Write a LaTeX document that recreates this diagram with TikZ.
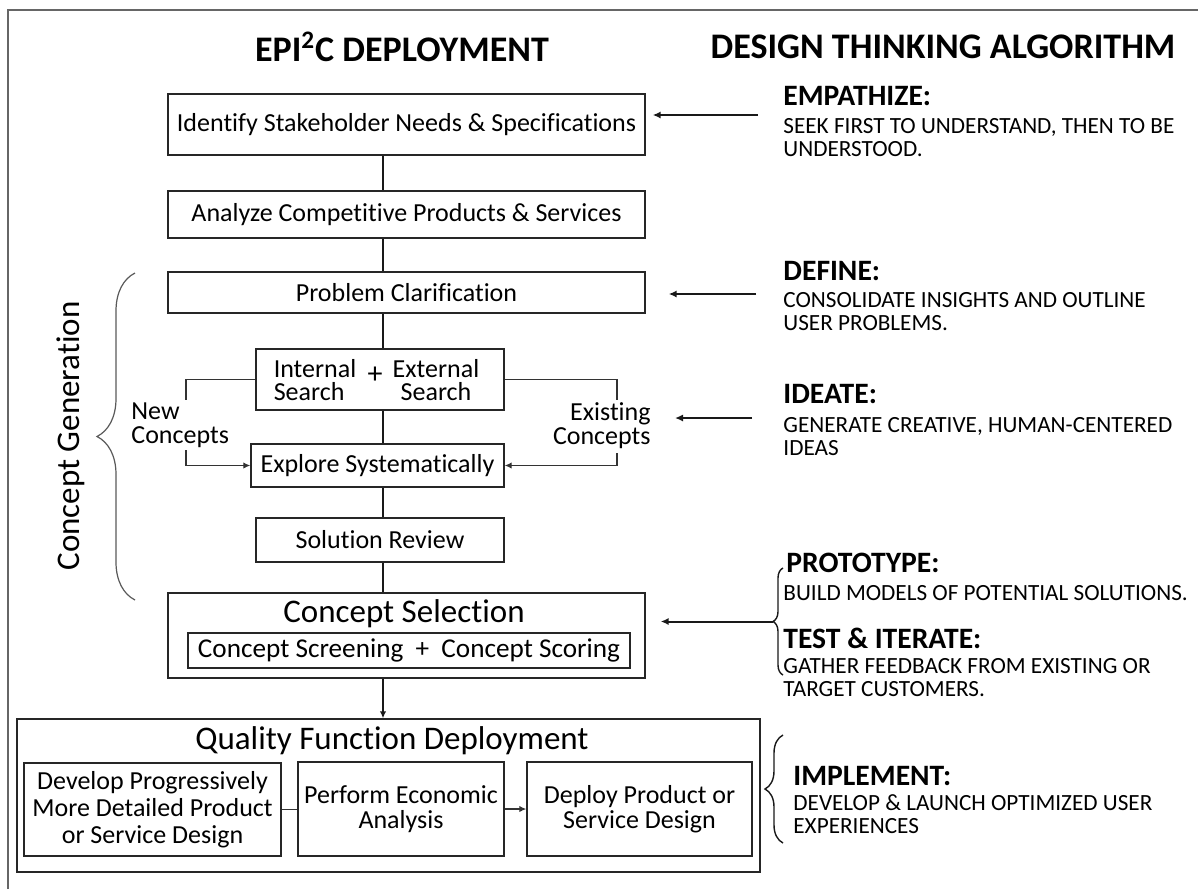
\documentclass[tikz,border=0pt]{standalone}
\usepackage{fontspec}
\setmainfont{Carlito}[Ligatures=NoCommon]
\usetikzlibrary{arrows.meta,decorations.pathreplacing,calc}

\newcommand\fBox{\fontsize{13}{13.5}\selectfont}
\newcommand\fBig{\fontsize{16.5}{18}\selectfont}
\newcommand\fTitle{\bfseries\fontsize{18}{20}\selectfont}
\newcommand\fHead{\bfseries\fontsize{14.8}{16}\selectfont}
\newcommand\fBody{\fontsize{11.6}{12}\selectfont}

\begin{document}
\begin{tikzpicture}[x=0.5pt,y=-0.5pt,
  box/.style={draw=black!85,line width=0.7pt,inner sep=0pt,align=center,font=\fBox},
  txt/.style={inner sep=0pt,font=\fBox},
  conn/.style={draw=black!90,line width=1pt},
  side/.style={draw=black!80,line width=0.6pt},
  tip/.style={-{Latex[length=3.5pt,width=3.2pt]}},
  bigtip/.style={-{Latex[length=4pt,width=3.6pt]}},
  head/.style={anchor=base west,inner sep=0pt,font=\fHead},
  body/.style={anchor=base west,inner sep=0pt,font=\fBody},
  bracelarge/.style={draw=black!65,line width=0.6pt,decorate,decoration={brace,amplitude=19pt}},
  bracesmall/.style={draw=black!90,line width=0.7pt,decorate,decoration={brace,amplitude=#1}},
  frame/.style={draw=black!60,line width=0.75pt}]

\useasboundingbox (0,0) rectangle (1198,889);

% outer frame (left and top edges)
\coordinate (fb) at (8,889);
\coordinate (ft) at (8,10);
\coordinate (fr) at (1198,10);
\draw[frame] (fb) -- (ft) -- (fr);

% column titles
\node[inner sep=0pt,font=\fTitle] (title1) at (402,47) {EPI\textsuperscript{2}C DEPLOYMENT};
\node[inner sep=0pt,font=\fTitle] (title2) at (943,47) {DESIGN THINKING ALGORITHM};

% main column
\coordinate (cx) at (383,0);
\node[box,minimum width=238.5pt,minimum height=30.5pt] (b1) at (406.5,124.5) {Identify Stakeholder Needs \& Specifications};
\node[box,minimum width=238.5pt,minimum height=23.5pt] (b2) at (406.5,214.5) {Analyze Competitive Products \& Services};
\node[box,minimum width=238.5pt,minimum height=20.5pt] (b3) at (406.5,292.5) {Problem Clarification};
\node[box,minimum width=124pt,minimum height=30.5pt] (b4) at (380,379.5) {};
\node[txt,align=left,font=\fontsize{13}{11.5}\selectfont] (intl) at (315,380) {Internal\\Search};
\node[txt,font=\fontsize{15}{15}\selectfont] (plus1) at (375,375) {+};
\node[txt,align=center,font=\fontsize{13}{11.5}\selectfont] (extl) at (436,380) {External\\Search};
\node[box,minimum width=126.5pt,minimum height=21.5pt] (b5) at (377.5,465.5) {Explore Systematically};
\node[box,minimum width=124pt,minimum height=22pt] (b6) at (380,540) {Solution Review};
\node[box,minimum width=238.5pt,minimum height=42.5pt] (b7) at (406.5,635.5) {};
\node[txt,font=\fBig] (csel) at (404,614) {Concept Selection};
\node[box,minimum width=221pt,minimum height=17.5pt,font=\fontsize{13.6}{14}\selectfont] (b7in) at (409,650.5) {Concept Screening\ \ +\ \ Concept Scoring};
\node[box,minimum width=371.5pt,minimum height=76.5pt] (b8) at (388.5,795.5) {};
\node[txt,font=\fBig] (qfd) at (392,741) {Quality Function Deployment};
\node[box,minimum width=128.5pt,minimum height=46.5pt,font=\fontsize{13}{13.5}\selectfont] (bA) at (152.5,809.5) {Develop Progressively\\More Detailed Product\\or Service Design};
\node[box,minimum width=103pt,minimum height=47pt,font=\fontsize{13}{12.5}\selectfont] (bB) at (401,809) {Perform Economic\\Analysis};
\node[box,minimum width=112.5pt,minimum height=47pt,font=\fontsize{13}{12.5}\selectfont] (bC) at (639.5,809) {Deploy Product or\\Service Design};

% vertical flow
\draw[conn] (b1.south -| cx) -- (b2.north -| cx);
\draw[conn] (b2.south -| cx) -- (b3.north -| cx);
\draw[conn] (b3.south -| cx) -- (b4.north -| cx);
\draw[conn] (b4.south -| cx) -- (b5.north -| cx);
\draw[conn] (b5.south -| cx) -- (b6.north -| cx);
\draw[conn] (b6.south -| cx) -- (b7.north -| cx);
\draw[conn,tip] (b7.south -| cx) -- (b8.north -| cx);

% inside the deployment box
\draw[side] (bA.east) -- (bA.east -| bB.west);
\draw[side,tip] (bB.east) -- (bC.west);

% new / existing concept loops
\coordinate (nc1) at (186,400);
\coordinate (nc2) at (186,450);
\coordinate (ec1) at (617,400);
\coordinate (ec2) at (617,453);
\draw[side] (b4.west) -| (nc1);
\draw[side,tip] (nc2) |- (b5.west);
\draw[side] (b4.east) -| (ec1);
\draw[side,tip] (ec2) |- (b5.east);
\node[txt,anchor=west,align=left,font=\fontsize{13}{12}\selectfont] (newc) at (131,425) {New\\Concepts};
\node[txt,anchor=east,align=right,font=\fontsize{13}{12}\selectfont] (exc) at (651,426) {Existing\\Concepts};

% concept generation brace
\draw[bracelarge] (135,600) -- (135,273);
\node[txt,rotate=90,font=\fBig] (cgen) at (71,436) {Concept Generation};

% design thinking stages
\node[head] (h1) at (783,105) {EMPATHIZE:};
\node[body] (s1a) at (783,133) {SEEK FIRST TO UNDERSTAND, THEN TO BE};
\node[body] (s1b) at (783,156) {UNDERSTOOD.};
\node[head] (h2) at (783,280) {DEFINE:};
\node[body] (s2a) at (783,307) {CONSOLIDATE INSIGHTS AND OUTLINE};
\node[body] (s2b) at (783,330) {USER PROBLEMS.};
\node[head] (h3) at (783,403) {IDEATE:};
\node[body] (s3a) at (783,432) {GENERATE CREATIVE, HUMAN-CENTERED};
\node[body] (s3b) at (783,455) {IDEAS};
\node[head] (h4) at (786,572) {PROTOTYPE:};
\node[body] (s4a) at (783,600) {BUILD MODELS OF POTENTIAL SOLUTIONS.};
\node[head] (h5) at (783,648) {TEST \& ITERATE:};
\node[body] (s5a) at (783,673) {GATHER FEEDBACK FROM EXISTING OR};
\node[body] (s5b) at (783,696) {TARGET CUSTOMERS.};
\node[head] (h6) at (793,785) {IMPLEMENT:};
\node[body] (s6a) at (793,810) {DEVELOP \& LAUNCH OPTIMIZED USER};
\node[body] (s6b) at (793,833) {EXPERIENCES};

% braces on the right
\draw[bracesmall=5pt] (783,675) -- (783,568);
\draw[bracesmall=9pt] (783,843) -- (783,735);
\coordinate (ptip) at (773,621.5);

% stage arrows
\coordinate (t1) at (758,115);
\coordinate (t2) at (756,294);
\coordinate (t3) at (752,418);
\draw[conn,bigtip,shorten >=3.5pt] (t1) -- (t1 -| b1.east);
\draw[conn,bigtip,shorten >=11.5pt] (t2) -- (t2 -| b3.east);
\draw[conn,bigtip,shorten >=12pt] (t3) -- (t3 -| exc.east);
\draw[conn,bigtip,shorten >=7.5pt] (ptip) -- (ptip -| b7.east);

\end{tikzpicture}
\end{document}
